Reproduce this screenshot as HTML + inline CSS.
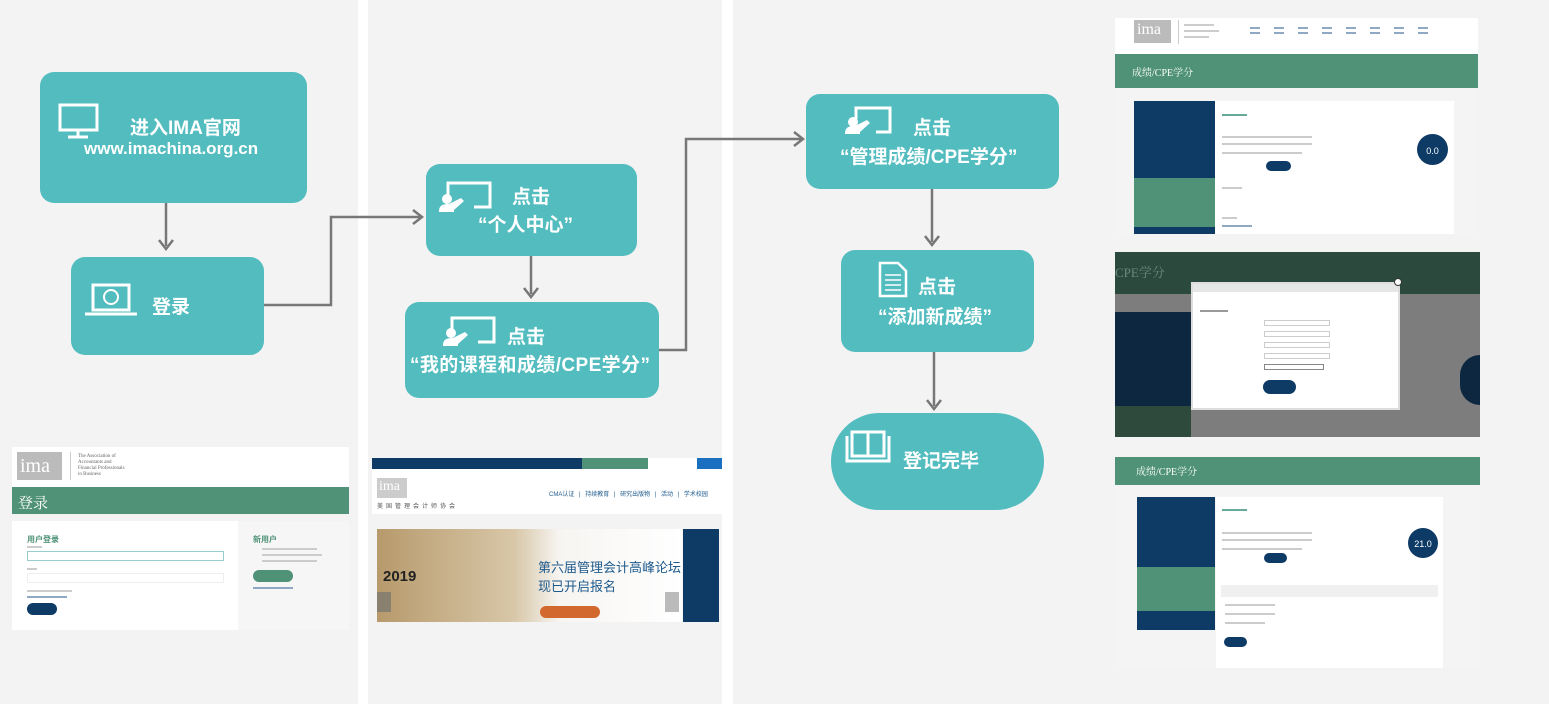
<!DOCTYPE html>
<html><head><meta charset="utf-8">
<style>
*{margin:0;padding:0;box-sizing:border-box}
body{width:1549px;height:704px;background:#fff;position:relative;overflow:hidden;font-family:"Liberation Sans","Noto Sans CJK SC",sans-serif}
.a{position:absolute}
.panel{position:absolute;top:0;height:704px;background:#f3f3f3}
.box{position:absolute;background:#52bcbf;border-radius:14px}
.t{position:absolute;color:#fff;font-weight:bold;font-size:19px;white-space:nowrap;font-family:"Liberation Sans","Noto Sans CJK SC",sans-serif;line-height:1}
.ser{font-family:"Liberation Serif","Noto Serif CJK SC",serif}
.bar{position:absolute;background:#ccc;height:2px}
.nb{position:absolute;background:#8fa8c4;height:2px}
</style></head><body>
<div class="panel" style="left:0;width:358px"></div>
<div class="panel" style="left:368px;width:354px"></div>
<div class="panel" style="left:733px;width:816px"></div>

<!-- boxes -->
<div class="box" style="left:40px;top:72px;width:267px;height:131px"></div>
<div class="box" style="left:71px;top:257px;width:193px;height:98px"></div>
<div class="box" style="left:426px;top:164px;width:211px;height:92px"></div>
<div class="box" style="left:405px;top:302px;width:254px;height:96px"></div>
<div class="box" style="left:806px;top:94px;width:253px;height:95px"></div>
<div class="box" style="left:841px;top:250px;width:193px;height:102px"></div>
<div class="box" style="left:831px;top:413px;width:213px;height:97px;border-radius:49px"></div>

<div class="t" style="left:130px;top:119px">进入IMA官网</div>
<div class="t" style="left:84px;top:140px;font-size:17px">www.imachina.org.cn</div>
<div class="t" style="left:152px;top:298px">登录</div>
<div class="t" style="left:512px;top:188px">点击</div>
<div class="t" style="left:478px;top:216px">“个人中心”</div>
<div class="t" style="left:507px;top:328px">点击</div>
<div class="t" style="left:410px;top:356px;letter-spacing:0.4px">“我的课程和成绩/CPE学分”</div>
<div class="t" style="left:913px;top:119px">点击</div>
<div class="t" style="left:840px;top:148px">“管理成绩/CPE学分”</div>
<div class="t" style="left:918px;top:278px">点击</div>
<div class="t" style="left:878px;top:308px">“添加新成绩”</div>
<div class="t" style="left:903px;top:452px">登记完毕</div>

<svg class="a" style="left:0;top:0" width="1549" height="704">
<g stroke="#777" stroke-width="2.5" fill="none">
<path d="M166 203V246"/><path d="M159 240l7 9 7-9"/>
<path d="M264 305H331V217H420"/><path d="M413 210l9 7-9 7"/>
<path d="M531 256V294"/><path d="M524 288l7 9 7-9"/>
<path d="M659 350H686V139H801"/><path d="M794 132l9 7-9 7"/>
<path d="M932 189V242"/><path d="M925 236l7 9 7-9"/>
<path d="M934 352V406"/><path d="M927 400l7 9 7-9"/>
</g>
<g stroke="#fff" stroke-width="3" fill="none">
<rect x="60" y="105" width="37" height="25"/><path d="M78 131v5M68 137h20"/>
<rect x="93" y="285" width="36" height="25"/><path d="M85 314h52"/><circle cx="111" cy="297" r="7" stroke-width="2"/>
<path d="M448 195v-12h42v24h-16"/><path d="M880 263h18l8 8v25h-26z" stroke-width="2.5"/>
<path d="M885 275h16M885 280h16M885 285h16M885 290h16" stroke-width="1.5"/>
<path d="M452 330v-12h42v24h-16"/><path d="M856 119v-11h34v24h-14"/>
<rect x="852" y="432" width="16" height="24"/><rect x="868" y="432" width="16" height="24"/><path d="M847 436v25h42v-25"/>
</g>
<g fill="#fff">
<circle cx="447" cy="199" r="5"/><path d="M439 212c0-7 4-8 10-8l12-6 3 3-10 9v2z"/>
<circle cx="451" cy="333" r="5"/><path d="M443 346c0-7 4-8 10-8l12-6 3 3-10 9v2z"/>
<circle cx="853" cy="122" r="5"/><path d="M845 134c0-7 4-8 10-8l12-6 3 3-10 9v2z"/>
</g>
</svg>

<!-- screenshot 1 -->
<div class="a" style="left:12px;top:447px;width:337px;height:40px;background:#fff"></div>
<div class="a" style="left:17px;top:452px;width:45px;height:28px;background:#bbb"></div>
<div class="a ser" style="left:20px;top:455px;font-size:20px;color:#fff">ima</div>
<div class="a" style="left:70px;top:452px;width:1px;height:28px;background:#ccc"></div>
<div class="a ser" style="left:78px;top:454px;font-size:5px;color:#666;line-height:6px">The Association of<br>Accountants and<br>Financial Professionals<br>in Business</div>
<div class="a" style="left:12px;top:487px;width:337px;height:27px;background:#4f9277"></div>
<div class="a ser" style="left:18px;top:492px;font-size:15px;color:#fff">登录</div>
<div class="a" style="left:12px;top:521px;width:226px;height:109px;background:#fff"></div>
<div class="a" style="left:238px;top:521px;width:111px;height:109px;background:#f6f6f6"></div>
<div class="a" style="left:27px;top:534px;font-size:8px;color:#4f9277;font-weight:bold">用户登录</div>
<div class="bar" style="left:27px;top:546px;width:15px"></div>
<div class="a" style="left:27px;top:551px;width:197px;height:10px;border:1px solid #9cc;background:#fff"></div>
<div class="bar" style="left:27px;top:568px;width:10px"></div>
<div class="a" style="left:27px;top:573px;width:197px;height:10px;border:1px solid #eee"></div>
<div class="bar" style="left:27px;top:590px;width:45px"></div>
<div class="nb" style="left:27px;top:596px;width:40px"></div>
<div class="a" style="left:27px;top:603px;width:30px;height:12px;border-radius:6px;background:#0e3a66"></div>
<div class="a" style="left:253px;top:534px;font-size:8px;color:#4f9277;font-weight:bold">新用户</div>
<div class="bar" style="left:262px;top:548px;width:55px"></div><div class="bar" style="left:262px;top:554px;width:60px"></div><div class="bar" style="left:262px;top:560px;width:55px"></div>
<div class="a" style="left:253px;top:570px;width:40px;height:12px;border-radius:6px;background:#4f9277"></div>
<div class="nb" style="left:253px;top:587px;width:40px"></div>

<!-- screenshot 2 -->
<div class="a" style="left:372px;top:458px;width:350px;height:12px;background:#fff"></div>
<div class="a" style="left:372px;top:458px;width:210px;height:11px;background:#0e3a66"></div>
<div class="a" style="left:582px;top:458px;width:66px;height:11px;background:#4f9277"></div>
<div class="a" style="left:697px;top:458px;width:25px;height:11px;background:#1a6fc0"></div>
<div class="a" style="left:372px;top:470px;width:350px;height:44px;background:#fff"></div>
<div class="a" style="left:377px;top:478px;width:30px;height:20px;background:#ccc"></div>
<div class="a ser" style="left:379px;top:479px;font-size:14px;color:#fff">ima</div>
<div class="a" style="left:377px;top:501px;font-size:6px;color:#555;letter-spacing:3px">美国管理会计师协会</div>
<div class="a" style="left:549px;top:489px;font-size:6px;color:#1d5a8c;word-spacing:3px;white-space:nowrap">CMA认证 | 持续教育 | 研究出版物 | 活动 | 学术校园</div>
<div class="a" style="left:377px;top:529px;width:305px;height:93px;background:linear-gradient(90deg,#b79a6c,#d8c7a8 45%,#f7f5f2 60%,#fff)"></div>
<div class="a" style="left:683px;top:529px;width:36px;height:93px;background:#0e3a66"></div>
<div class="a" style="left:383px;top:568px;font-size:15px;font-weight:bold;color:#222">2019</div>
<div class="a" style="left:538px;top:557px;font-size:13px;color:#1d5a8c">第六届管理会计高峰论坛<br>现已开启报名</div>
<div class="a" style="left:540px;top:606px;width:60px;height:12px;border-radius:6px;background:#d2682e"></div>
<div class="a" style="left:377px;top:592px;width:14px;height:20px;background:#8a8070"></div>
<div class="a" style="left:665px;top:592px;width:14px;height:20px;background:#bbb"></div>

<!-- screenshot 3 -->
<div class="a" style="left:1115px;top:18px;width:363px;height:36px;background:#fff"></div>
<div class="a" style="left:1134px;top:20px;width:37px;height:23px;background:#bbb"></div>
<div class="a ser" style="left:1137px;top:21px;font-size:16px;color:#fff">ima</div>
<div class="a" style="left:1178px;top:20px;width:1px;height:24px;background:#ccc"></div>
<div class="bar" style="left:1184px;top:24px;width:30px"></div><div class="bar" style="left:1184px;top:30px;width:35px"></div><div class="bar" style="left:1184px;top:36px;width:25px"></div>
<div class="nb" style="left:1250px;top:27px;width:190px;background:repeating-linear-gradient(90deg,#8fa8c4 0 10px,transparent 10px 24px)"></div>
<div class="nb" style="left:1250px;top:32px;width:190px;background:repeating-linear-gradient(90deg,#8fa8c4 0 10px,transparent 10px 24px)"></div>
<div class="a" style="left:1115px;top:54px;width:363px;height:34px;background:#4f9277"></div>
<div class="a ser" style="left:1132px;top:64px;font-size:10px;color:#fff">成绩/CPE学分</div>
<div class="a" style="left:1115px;top:88px;width:363px;height:146px;background:#f4f4f4"></div>
<div class="a" style="left:1134px;top:101px;width:81px;height:133px;background:#0e3a66"></div>
<div class="a" style="left:1134px;top:178px;width:81px;height:49px;background:#4f9277"></div>
<div class="a" style="left:1215px;top:101px;width:239px;height:133px;background:#fff"></div>
<div class="bar" style="left:1222px;top:114px;width:25px;background:#6a9"></div>
<div class="bar" style="left:1222px;top:136px;width:90px"></div><div class="bar" style="left:1222px;top:143px;width:90px"></div><div class="bar" style="left:1222px;top:152px;width:80px"></div>
<div class="bar" style="left:1222px;top:187px;width:20px"></div><div class="bar" style="left:1222px;top:217px;width:15px"></div>
<div class="nb" style="left:1222px;top:225px;width:30px"></div>
<div class="a" style="left:1417px;top:134px;width:31px;height:31px;border-radius:50%;background:#0e3a66;color:#fff;font-size:9px;text-align:center;line-height:34px">0.0</div>
<div class="a" style="left:1266px;top:161px;width:25px;height:10px;border-radius:5px;background:#0e3a66"></div>

<!-- screenshot 4 -->
<div class="a" style="left:1115px;top:252px;width:365px;height:42px;background:#2b4a3d"></div>
<div class="a ser" style="left:1115px;top:262px;font-size:13px;color:#6a8a7c">CPE学分</div>
<div class="a" style="left:1115px;top:294px;width:365px;height:143px;background:#7d7d7d"></div>
<div class="a" style="left:1115px;top:312px;width:76px;height:125px;background:#0d2740"></div>
<div class="a" style="left:1115px;top:406px;width:76px;height:31px;background:#2d4a3d"></div>
<div class="a" style="left:1460px;top:355px;width:20px;height:50px;border-radius:25px 0 0 25px;background:#0d2740"></div>
<div class="a" style="left:1191px;top:282px;width:209px;height:128px;background:#fff;border:2px solid #ddd"></div>
<div class="a" style="left:1193px;top:284px;width:205px;height:8px;background:#e6e6e6"></div>
<div class="bar" style="left:1200px;top:310px;width:28px;background:#999"></div>
<div class="a" style="left:1264px;top:320px;width:66px;height:6px;border:1px solid #ccc"></div>
<div class="a" style="left:1264px;top:331px;width:66px;height:6px;border:1px solid #ccc"></div>
<div class="a" style="left:1264px;top:342px;width:66px;height:6px;border:1px solid #ccc"></div>
<div class="a" style="left:1264px;top:353px;width:66px;height:6px;border:1px solid #ccc"></div>
<div class="a" style="left:1264px;top:364px;width:60px;height:6px;border:1px solid #888"></div>
<div class="a" style="left:1263px;top:380px;width:33px;height:14px;border-radius:7px;background:#0e3a66"></div>
<div class="a" style="left:1394px;top:278px;width:8px;height:8px;border-radius:50%;background:#fff;border:1px solid #333"></div>

<!-- screenshot 5 -->
<div class="a" style="left:1115px;top:457px;width:365px;height:28px;background:#4f9277"></div>
<div class="a ser" style="left:1136px;top:463px;font-size:10px;color:#fff">成绩/CPE学分</div>
<div class="a" style="left:1115px;top:485px;width:365px;height:183px;background:#f4f4f4"></div>
<div class="a" style="left:1137px;top:497px;width:78px;height:133px;background:#0e3a66"></div>
<div class="a" style="left:1137px;top:567px;width:78px;height:44px;background:#4f9277"></div>
<div class="a" style="left:1216px;top:497px;width:227px;height:171px;background:#fff"></div>
<div class="bar" style="left:1222px;top:509px;width:25px;background:#6a9"></div>
<div class="bar" style="left:1222px;top:532px;width:90px"></div><div class="bar" style="left:1222px;top:539px;width:90px"></div><div class="bar" style="left:1222px;top:548px;width:80px"></div>
<div class="a" style="left:1221px;top:585px;width:217px;height:12px;background:#f0f0f0"></div>
<div class="bar" style="left:1225px;top:604px;width:50px"></div><div class="bar" style="left:1225px;top:613px;width:50px"></div><div class="bar" style="left:1225px;top:622px;width:40px"></div>
<div class="a" style="left:1408px;top:528px;width:30px;height:30px;border-radius:50%;background:#0e3a66;color:#fff;font-size:9px;text-align:center;line-height:32px">21.0</div>
<div class="a" style="left:1264px;top:553px;width:23px;height:10px;border-radius:5px;background:#0e3a66"></div>
<div class="a" style="left:1224px;top:637px;width:23px;height:10px;border-radius:5px;background:#0e3a66"></div>
</body></html>
